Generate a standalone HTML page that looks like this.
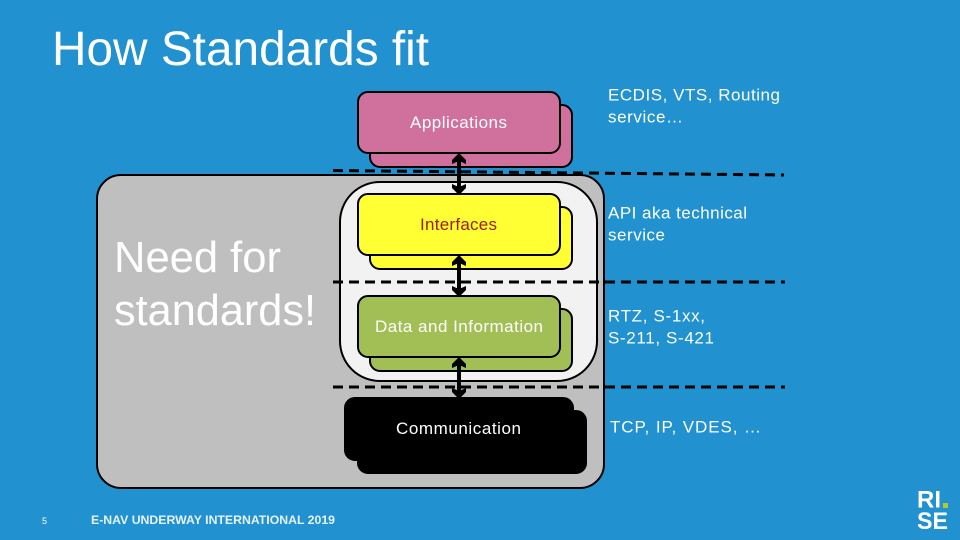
<!DOCTYPE html>
<html><head><meta charset="utf-8"><style>
html,body{margin:0;padding:0;background:#2191cf}
svg{display:block}
text{font-family:"Liberation Sans",sans-serif}
</style></head><body>
<svg width="960" height="540" viewBox="0 0 960 540" xmlns="http://www.w3.org/2000/svg">
<defs>
<path id="ah" d="M0 -1 L-7 6 L-7 10 L-2.500 8 L2.500 8 L7 10 L7 6 Z" fill="#000"/>
</defs>
<rect width="960" height="540" fill="#2191cf"/>
<text x="52" y="65" font-size="48" fill="#fff" textLength="377" lengthAdjust="spacingAndGlyphs">How Standards fit</text>

<rect x="97" y="175" width="507" height="313" rx="24" fill="#bfbfbf" stroke="#000" stroke-width="2"/>
<rect x="340" y="182" width="257" height="199" rx="40" fill="#f2f2f2" stroke="#000" stroke-width="2"/>

<text x="114" y="272" font-size="44" fill="#fff" textLength="167" lengthAdjust="spacingAndGlyphs">Need for</text>
<text x="114" y="325" font-size="44" fill="#fff" textLength="202" lengthAdjust="spacingAndGlyphs">standards!</text>

<g stroke="#000" stroke-width="2">
<rect x="370" y="105" width="202" height="62" rx="10" fill="#d0709c"/>
<rect x="358" y="92" width="202" height="61" rx="10" fill="#d0709c"/>
<rect x="370" y="207" width="202" height="62" rx="10" fill="#ffff33"/>
<rect x="358" y="194" width="202" height="61" rx="10" fill="#ffff33"/>
<rect x="370" y="309" width="202" height="62" rx="10" fill="#a2bf55"/>
<rect x="358" y="296" width="202" height="61" rx="10" fill="#a2bf55"/>
<rect x="345" y="398" width="228" height="62" rx="10" fill="#000"/>
<rect x="358" y="411" width="228" height="62" rx="10" fill="#000"/>
</g>

<g stroke="#000" stroke-width="3" stroke-dasharray="10 6" fill="none">
<path d="M333 170.500 L784 175"/>
<path d="M333 282 L785 282"/>
<path d="M333 387 L785 387"/>
</g>

<g stroke="#000" stroke-width="4">
<line x1="459" y1="156" x2="459" y2="191"/>
<line x1="459" y1="258" x2="459" y2="293"/>
<line x1="459" y1="360" x2="459" y2="395"/>
</g>
<use href="#ah" x="459" y="154"/>
<use href="#ah" transform="translate(459 194) scale(1 -1)"/>
<use href="#ah" x="459" y="256"/>
<use href="#ah" transform="translate(459 296) scale(1 -1)"/>
<use href="#ah" x="459" y="358"/>
<use href="#ah" transform="translate(459 398) scale(1 -1)"/>

<g font-size="17">
<text x="410" y="128" fill="#fff" textLength="97">Applications</text>
<text x="420" y="230" fill="#9c1c06" textLength="77">Interfaces</text>
<text x="375" y="332" fill="#fff" textLength="168">Data and Information</text>
<text x="396" y="434" fill="#fff" textLength="125">Communication</text>
</g>

<g font-size="17" fill="#fff">
<text x="608" y="100.500" textLength="172">ECDIS, VTS, Routing</text>
<text x="608" y="122.500" textLength="75">service…</text>
<text x="608" y="218.500" textLength="139">API aka technical</text>
<text x="608" y="240.500" textLength="57">service</text>
<text x="608" y="321.500" textLength="97">RTZ, S-1xx,</text>
<text x="608" y="343.500" textLength="106">S-211, S-421</text>
<text x="610" y="432.500" textLength="151">TCP, IP, VDES, …</text>
</g>

<text x="42" y="524" font-size="9" fill="#fff">5</text>
<text x="91" y="524" font-size="11.500" font-weight="bold" fill="#e6f3fa" textLength="244" lengthAdjust="spacingAndGlyphs">E-NAV UNDERWAY INTERNATIONAL 2019</text>

<g font-weight="bold" fill="#fff" font-size="24">
<text x="917" y="507.500" textLength="24" lengthAdjust="spacingAndGlyphs">RI</text>
<text x="917" y="529" textLength="31" lengthAdjust="spacingAndGlyphs">SE</text>
</g>
<rect x="943" y="503" width="5" height="5" fill="#b5c92f"/>
</svg>
</body></html>
